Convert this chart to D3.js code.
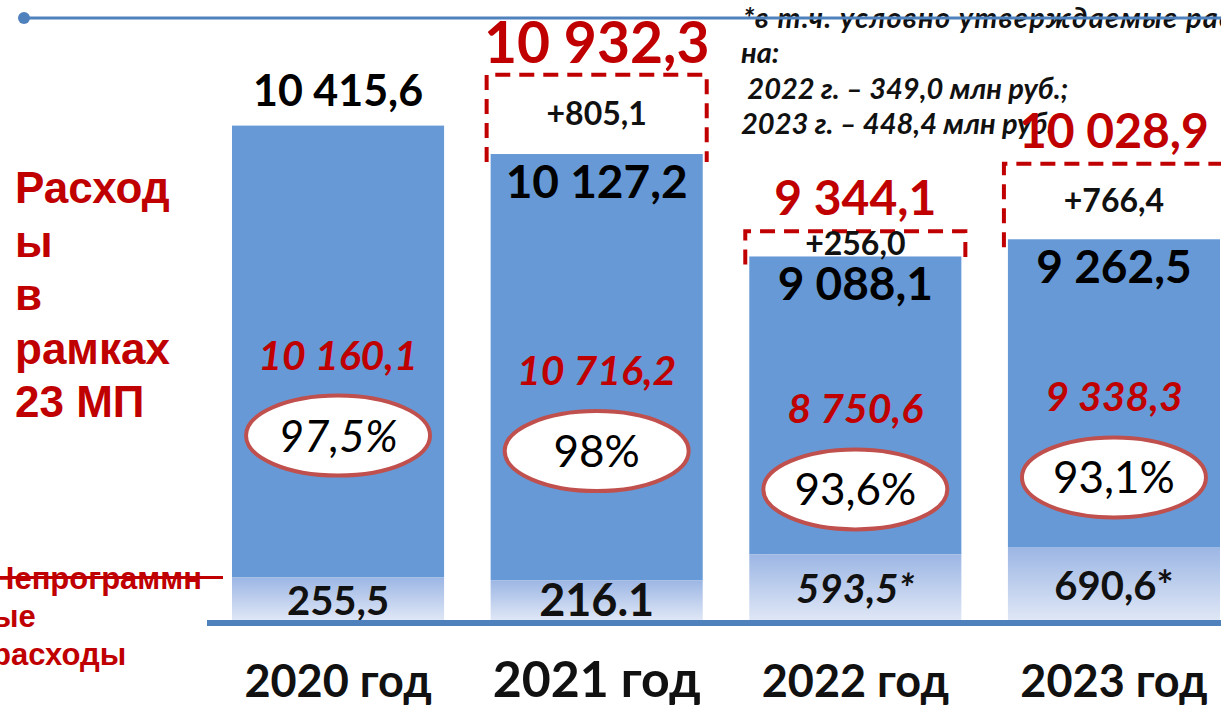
<!DOCTYPE html>
<meta charset="utf-8">
<title>Расходы в рамках 23 МП</title>
<style>
body { margin: 0; background: #fff; }
svg { display: block; font-family: Lato, sans-serif; }
.left { font-family: "Liberation Sans", Arial, sans-serif; font-weight: bold; fill: #c00000; }
</style>
<body>
<script src="https://cdn.jsdelivr.net/npm/d3@7"></script>
<script>

var years = ["2020 год", "2021 год", "2022 год", "2023 год"];
var programValues = [10160.1, 10716.2, 8750.6, 9338.3];
var nonProgramValues = [255.5, 216.1, 593.5, 690.6];
var nonProgramLabels = ["255,5", "216.1", "593,5*", "690,6*"];
var baseTotals = [10415.6, 10127.2, 9088.1, 9262.5];
var additions = [null, 805.1, 256.0, 766.4];
var finalTotals = [null, 10932.3, 9344.1, 10028.9];
var shares = ["97,5%", "98%", "93,6%", "93,1%"];
var footnote = ["*в т.ч. условно утверждаемые расходы", "на:", " 2022 г. – 349,0 млн руб.;", "2023 г. – 448,4 млн руб."];
var leftTitle = ["Расход", "ы", "в", "рамках", "23 МП"];
var leftNote = ["Непрограммн", "ые", "расходы"];

var width = 1221, height = 707, base = 620;
var red = "#c00000", blue = "#6699d6", lineBlue = "#4f81bd";

var ru = d3.formatLocale({decimal: ",", thousands: " ", grouping: [3], currency: ["", ""]});
var fmt = ru.format(",.1f"), fmtPlus = ru.format("+,.1f");

var data = years.map(function(y, i) {
  return {
    year: y, i: i,
    program: programValues[i],
    nonProgram: nonProgramValues[i],
    nonProgramLabel: nonProgramLabels[i],
    base: baseTotals[i],
    add: additions[i],
    total: finalTotals[i],
    share: shares[i]
  };
});

var x = d3.scaleBand().domain(years).range([232, 1220]).paddingInner(0.18);
var y = d3.scaleLinear().domain([5400, 11000]).range([base, 68]);
// lower band (non-programme part) is drawn on its own compressed scale
var low = d3.scaleLinear().domain([0, 700]).range([25, 73]);

var svg = d3.select("body").append("svg")
    .attr("width", width)
    .attr("height", height);

var grad = svg.append("defs").append("linearGradient")
    .attr("id", "lowgrad").attr("x1", 0).attr("y1", 0).attr("x2", 0).attr("y2", 1);
grad.append("stop").attr("offset", "0%").attr("stop-color", "#9cb6e4");
grad.append("stop").attr("offset", "100%").attr("stop-color", "#dfe7f6");

// footnote (top right)
svg.append("g").selectAll("text")
    .data(footnote)
  .enter().append("text")
    .attr("x", function(d, i) { return [743, 741, 741, 741][i]; })
    .attr("y", function(d, i) { return [28, 63, 99, 134][i]; })
    .attr("font-size", 29)
    .attr("letter-spacing", function(d, i) { return i === 0 ? 1.2 : 0; })
    .attr("font-weight", "bold")
    .attr("font-style", "italic")
    .attr("fill", "#111")
    .attr("xml:space", "preserve")
    .text(function(d) { return d; });

// top rule
svg.append("line")
    .attr("x1", 24).attr("x2", width).attr("y1", 18).attr("y2", 18)
    .attr("stroke", lineBlue).attr("stroke-width", 3);
svg.append("circle")
    .attr("cx", 24).attr("cy", 18).attr("r", 6)
    .attr("fill", lineBlue);

var bw = x.bandwidth();
var lowTop = function(d) { return base - low(d.nonProgram); };

// dashed frames for the additions
var adds = data.filter(function(d) { return d.add != null; });
svg.append("g").selectAll("path")
    .data(adds)
  .enter().append("path")
    .attr("d", function(d) {
      var x0 = x(d.year) - 4, x1 = x(d.year) + bw + 4,
          yt = y(d.total), yb = y(d.base) + 8;
      return "M" + x0 + "," + yb + "V" + yt + "H" + x1 + "V" + yb;
    })
    .attr("fill", "#fff")
    .attr("stroke", red)
    .attr("stroke-width", 4)
    .attr("stroke-dasharray", "15,9");

// bars
var bars = svg.append("g").selectAll("g")
    .data(data)
  .enter().append("g");

bars.append("rect")
    .attr("x", function(d) { return x(d.year); })
    .attr("width", bw)
    .attr("y", function(d) { return y(d.base); })
    .attr("height", function(d) { return lowTop(d) - y(d.base); })
    .attr("fill", blue);

bars.append("rect")
    .attr("x", function(d) { return x(d.year); })
    .attr("width", bw)
    .attr("y", lowTop)
    .attr("height", function(d) { return low(d.nonProgram); })
    .attr("fill", "url(#lowgrad)");

// baseline
svg.append("line")
    .attr("x1", x(years[0]) - 25).attr("x2", width)
    .attr("y1", base + 3).attr("y2", base + 3)
    .attr("stroke", lineBlue).attr("stroke-width", 6);

var cx = function(d) { return x(d.year) + bw / 2; };
var mid = function(d) { return (y(d.base) + lowTop(d)) / 2; };

// 2020 total above bar; base totals inside other bars
bars.append("text")
    .attr("x", cx)
    .attr("y", function(d) { return d.add == null ? y(d.base) - 20 : y(d.base) + 44; })
    .attr("text-anchor", "middle")
    .attr("font-size", function(d) { return d.add == null ? 43 : 46; })
    .attr("font-weight", "bold")
    .attr("fill", "#000")
    .text(function(d) { return fmt(d.base); });

// additions and new totals
var addG = svg.append("g").selectAll("g")
    .data(adds)
  .enter().append("g");

addG.append("text")
    .attr("x", cx)
    .attr("y", function(d) { return (y(d.total) + y(d.base)) / 2 + 11; })
    .attr("text-anchor", "middle")
    .attr("font-size", 32)
    .attr("font-weight", "bold")
    .attr("fill", "#111")
    .text(function(d) { return fmtPlus(d.add); });

addG.append("text")
    .attr("x", cx)
    .attr("y", function(d) { return y(d.total) - (d.i === 1 ? 12 : 16); })
    .attr("text-anchor", "middle")
    .attr("font-size", function(d) { return d.i === 1 ? 57 : 48; })
    .attr("font-weight", "bold")
    .attr("fill", red)
    .text(function(d) { return fmt(d.total); });

// programme part
bars.append("text")
    .attr("x", cx)
    .attr("y", function(d) { return mid(d) + 18; })
    .attr("text-anchor", "middle")
    .attr("font-size", 41)
    .attr("font-weight", "bold")
    .attr("font-style", "italic")
    .attr("fill", red)
    .text(function(d) { return fmt(d.program); });

bars.append("ellipse")
    .attr("cx", cx)
    .attr("cy", function(d) { return mid(d) + 84; })
    .attr("rx", 92).attr("ry", 40)
    .attr("fill", "#fff")
    .attr("stroke", "#c0504d")
    .attr("stroke-width", 4);

bars.append("text")
    .attr("x", cx)
    .attr("y", function(d) { return mid(d) + 100; })
    .attr("text-anchor", "middle")
    .attr("font-size", 44)
    .attr("font-style", function(d) { return d.i === 0 ? "italic" : "normal"; })
    .attr("fill", "#000")
    .text(function(d) { return d.share; });

// non-programme part
bars.append("text")
    .attr("x", cx)
    .attr("y", function(d) { return (lowTop(d) + base) / 2 + 16; })
    .attr("text-anchor", "middle")
    .attr("font-size", function(d) { return d.i === 1 ? 45 : 40; })
    .attr("font-weight", "bold")
    .attr("font-style", function(d) { return d.i === 2 ? "italic" : "normal"; })
    .attr("fill", "#111")
    .text(function(d) { return d.nonProgramLabel; });

// year labels
bars.append("text")
    .attr("x", cx)
    .attr("y", 697)
    .attr("text-anchor", "middle")
    .attr("font-size", function(d) { return d.i === 1 ? 50 : 45; })
    .attr("font-weight", "bold")
    .attr("fill", "#111")
    .text(function(d) { return d.year; });

// left captions
svg.append("text")
    .attr("class", "left")
    .attr("font-size", 44)
  .selectAll("tspan")
    .data(leftTitle)
  .enter().append("tspan")
    .attr("x", 15)
    .attr("y", function(d, i) { return 203 + i * 53.5; })
    .text(function(d) { return d; });

svg.append("text")
    .attr("class", "left")
    .attr("font-size", 31)
  .selectAll("tspan")
    .data(leftNote)
  .enter().append("tspan")
    .attr("x", -8)
    .attr("y", function(d, i) { return 589 + i * 38; })
    .text(function(d) { return d; });

svg.append("line")
    .attr("x1", 0).attr("x2", x(years[0]) - 9)
    .attr("y1", lowTop(data[0])).attr("y2", lowTop(data[0]))
    .attr("stroke", red).attr("stroke-width", 3);

</script>
